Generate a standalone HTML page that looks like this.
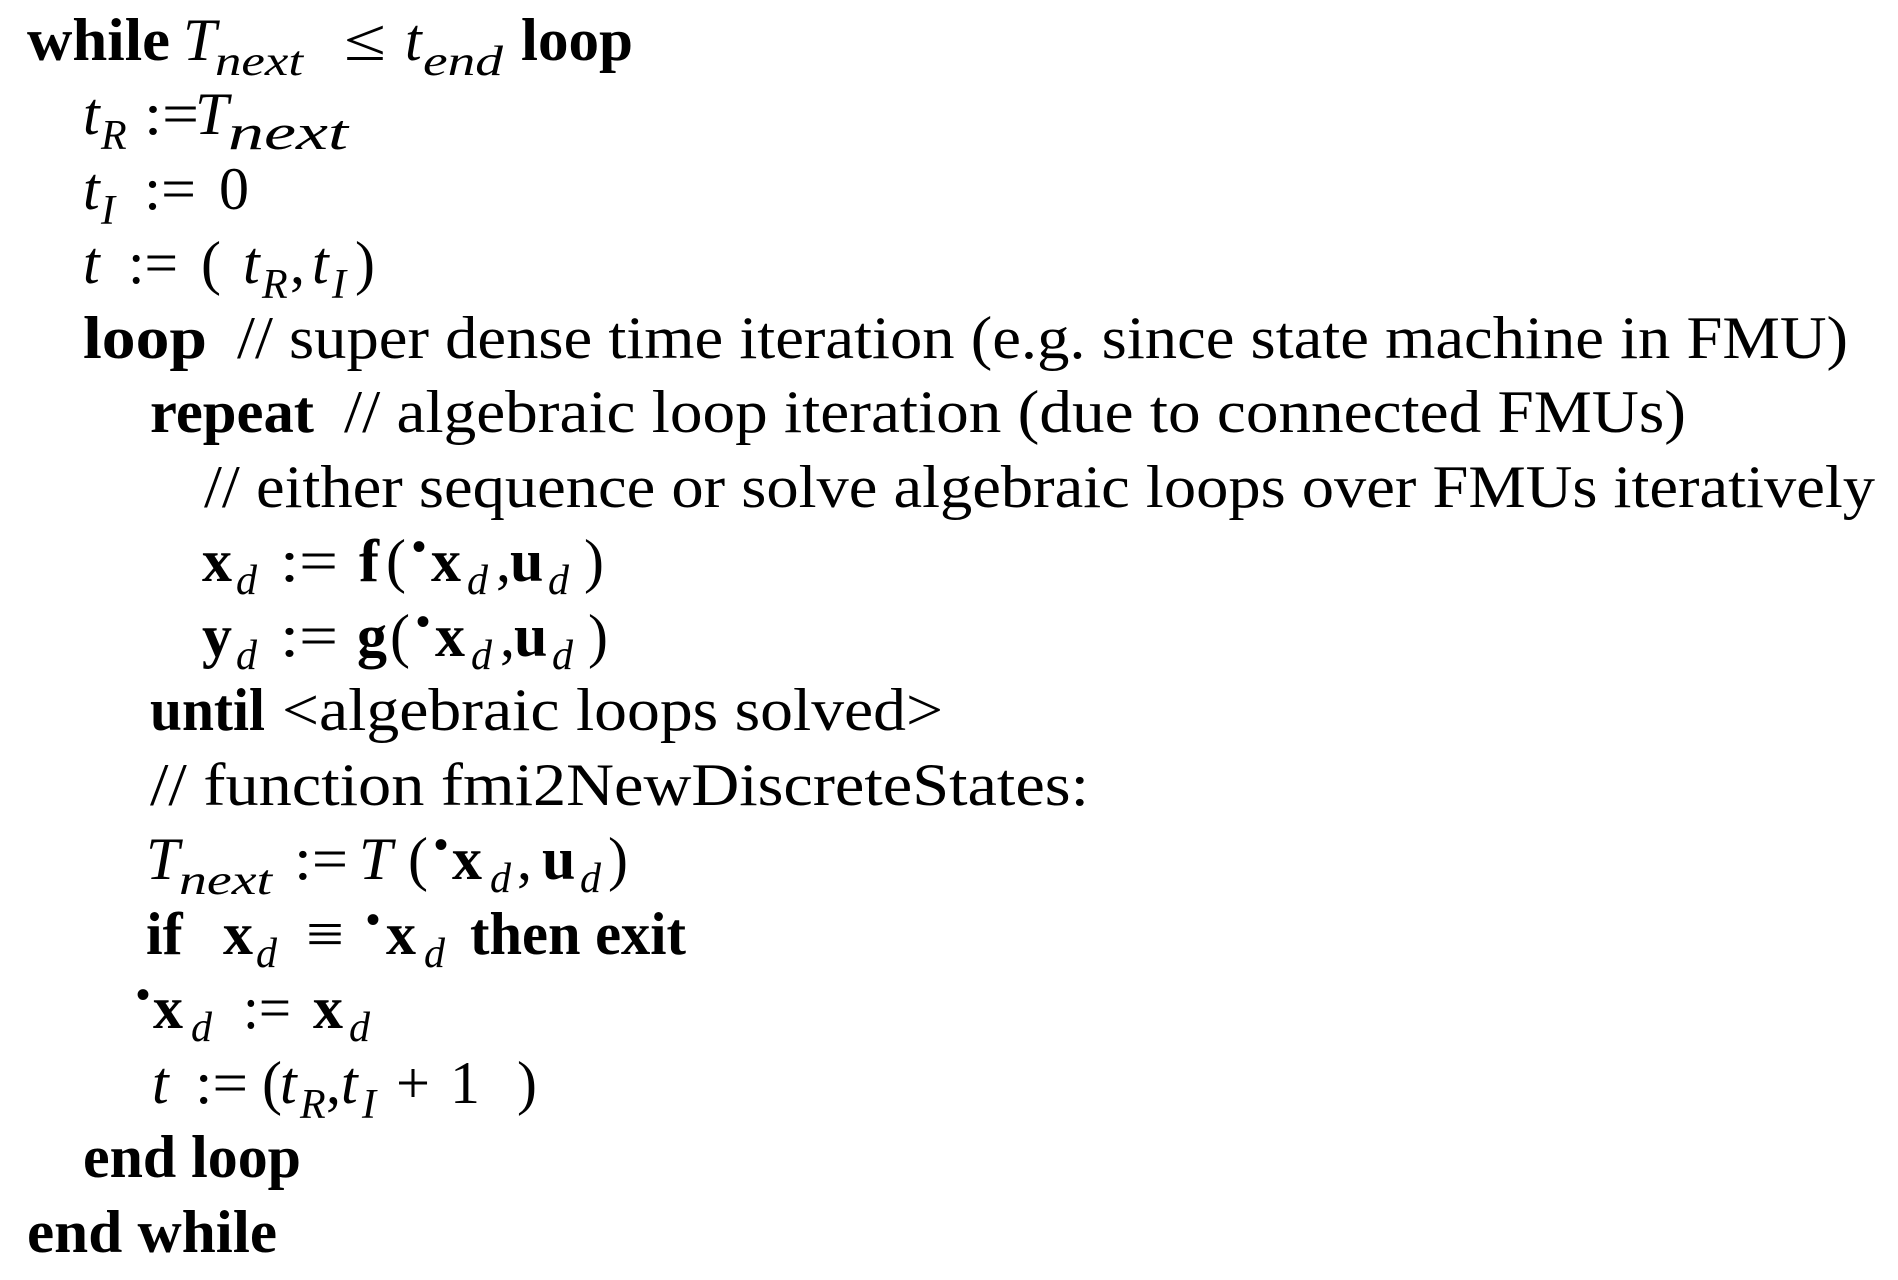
<!DOCTYPE html>
<html><head><meta charset="utf-8"><style>
html,body{margin:0;padding:0;background:#fff;}
svg{display:block}
text{font-family:"Liberation Serif",serif;font-size:60px;fill:#000}
.b{font-weight:bold}
.i{font-style:italic}
.s{font-style:italic;font-size:42px}
.d{font-size:40px;font-weight:bold}
</style></head><body>
<svg width="1898" height="1280" viewBox="0 0 1898 1280" xmlns="http://www.w3.org/2000/svg">
<!-- L1 -->
<text x="27" y="60" class="b" textLength="143" lengthAdjust="spacingAndGlyphs">while</text>
<text x="183" y="60" class="i">T</text>
<text x="215" y="75" class="s" textLength="88" lengthAdjust="spacingAndGlyphs">next</text>
<text x="344" y="60" textLength="42" lengthAdjust="spacingAndGlyphs">≤</text>
<text x="405" y="60" class="i">t</text>
<text x="423" y="75" class="s" textLength="80" lengthAdjust="spacingAndGlyphs">end</text>
<text x="521" y="60" class="b" textLength="112" lengthAdjust="spacingAndGlyphs">loop</text>
<!-- L2 -->
<text x="83" y="134" class="i">t</text>
<text x="101" y="149" class="s">R</text>
<text x="144" y="134" textLength="55" lengthAdjust="spacingAndGlyphs">:=</text>
<text x="195" y="134" class="i">T</text>
<text x="228" y="149" class="s" style="font-size:50px" textLength="120" lengthAdjust="spacingAndGlyphs">next</text>
<!-- L3 -->
<text x="83" y="209" class="i">t</text>
<text x="101" y="224" class="s">I</text>
<text x="144" y="209" textLength="52" lengthAdjust="spacingAndGlyphs">:=</text>
<text x="219" y="209">0</text>
<!-- L4 -->
<text x="83" y="283" class="i">t</text>
<text x="128" y="283" textLength="50" lengthAdjust="spacingAndGlyphs">:=</text>
<text x="201" y="283">(</text>
<text x="243" y="283" class="i">t</text>
<text x="262" y="298" class="s">R</text>
<text x="290" y="283">,</text>
<text x="312" y="283" class="i">t</text>
<text x="332" y="298" class="s">I</text>
<text x="355" y="283">)</text>
<!-- L5 -->
<text x="83" y="358" class="b" textLength="124" lengthAdjust="spacingAndGlyphs">loop</text>
<text x="237" y="358" textLength="1611" lengthAdjust="spacingAndGlyphs">// super dense time iteration (e.g. since state machine in FMU)</text>
<!-- L6 -->
<text x="150" y="432" class="b" textLength="164" lengthAdjust="spacingAndGlyphs">repeat</text>
<text x="344" y="432" textLength="1342" lengthAdjust="spacingAndGlyphs">// algebraic loop iteration (due to connected FMUs)</text>
<!-- L7 -->
<text x="204" y="507" textLength="1671" lengthAdjust="spacingAndGlyphs">// either sequence or solve algebraic loops over FMUs iteratively</text>
<!-- L8 -->
<text x="202" y="581" class="b">x</text>
<text x="236" y="594" class="s">d</text>
<text x="280" y="581" textLength="58" lengthAdjust="spacingAndGlyphs">:=</text>
<text x="359" y="581" class="b">f</text>
<text x="386" y="581">(</text>
<text x="412" y="560" class="d">•</text>
<text x="431" y="581" class="b">x</text>
<text x="467" y="594" class="s">d</text>
<text x="496" y="581">,</text>
<text x="510" y="581" class="b">u</text>
<text x="548" y="594" class="s">d</text>
<text x="584" y="581">)</text>
<!-- L9 -->
<text x="202" y="656" class="b">y</text>
<text x="236" y="669" class="s">d</text>
<text x="280" y="656" textLength="58" lengthAdjust="spacingAndGlyphs">:=</text>
<text x="357" y="656" class="b">g</text>
<text x="390" y="656">(</text>
<text x="416" y="635" class="d">•</text>
<text x="435" y="656" class="b">x</text>
<text x="471" y="669" class="s">d</text>
<text x="500" y="656">,</text>
<text x="514" y="656" class="b">u</text>
<text x="552" y="669" class="s">d</text>
<text x="588" y="656">)</text>
<!-- L10 -->
<text x="150" y="730" class="b" textLength="115" lengthAdjust="spacingAndGlyphs">until</text>
<text x="282" y="730" textLength="661" lengthAdjust="spacingAndGlyphs">&lt;algebraic loops solved&gt;</text>
<!-- L11 -->
<text x="150" y="805" textLength="939" lengthAdjust="spacingAndGlyphs">// function  fmi2NewDiscreteStates:</text>
<!-- L12 -->
<text x="146" y="879" class="i">T</text>
<text x="179" y="894" class="s" textLength="93" lengthAdjust="spacingAndGlyphs">next</text>
<text x="294" y="879" textLength="54" lengthAdjust="spacingAndGlyphs">:=</text>
<text x="359" y="879" class="i">T</text>
<text x="408" y="879">(</text>
<text x="434" y="858" class="d">•</text>
<text x="452" y="879" class="b">x</text>
<text x="490" y="892" class="s">d</text>
<text x="517" y="879">,</text>
<text x="542" y="879" class="b">u</text>
<text x="580" y="892" class="s">d</text>
<text x="608" y="879">)</text>
<!-- L13 -->
<text x="146" y="954" class="b">if</text>
<text x="223" y="954" class="b">x</text>
<text x="256" y="967" class="s">d</text>
<text x="306" y="954" textLength="38" lengthAdjust="spacingAndGlyphs">≡</text>
<text x="366" y="933" class="d">•</text>
<text x="386" y="954" class="b">x</text>
<text x="424" y="967" class="s">d</text>
<text x="470" y="954" class="b" textLength="216" lengthAdjust="spacingAndGlyphs">then exit</text>
<!-- L14 -->
<text x="136" y="1008" class="d">•</text>
<text x="153" y="1028" class="b">x</text>
<text x="191" y="1041" class="s">d</text>
<text x="243" y="1028" textLength="48" lengthAdjust="spacingAndGlyphs">:=</text>
<text x="313" y="1028" class="b">x</text>
<text x="349" y="1041" class="s">d</text>
<!-- L15 -->
<text x="152" y="1103" class="i">t</text>
<text x="195" y="1103" textLength="53" lengthAdjust="spacingAndGlyphs">:=</text>
<text x="262" y="1103">(</text>
<text x="280" y="1103" class="i">t</text>
<text x="300" y="1118" class="s">R</text>
<text x="326" y="1103">,</text>
<text x="341" y="1103" class="i">t</text>
<text x="362" y="1118" class="s">I</text>
<text x="396" y="1103" textLength="34" lengthAdjust="spacingAndGlyphs">+</text>
<text x="450" y="1103">1</text>
<text x="517" y="1103">)</text>
<!-- L16 -->
<text x="83" y="1177" class="b" textLength="218" lengthAdjust="spacingAndGlyphs">end loop</text>
<!-- L17 -->
<text x="27" y="1252" class="b" textLength="250" lengthAdjust="spacingAndGlyphs">end while</text>
</svg>
</body></html>
